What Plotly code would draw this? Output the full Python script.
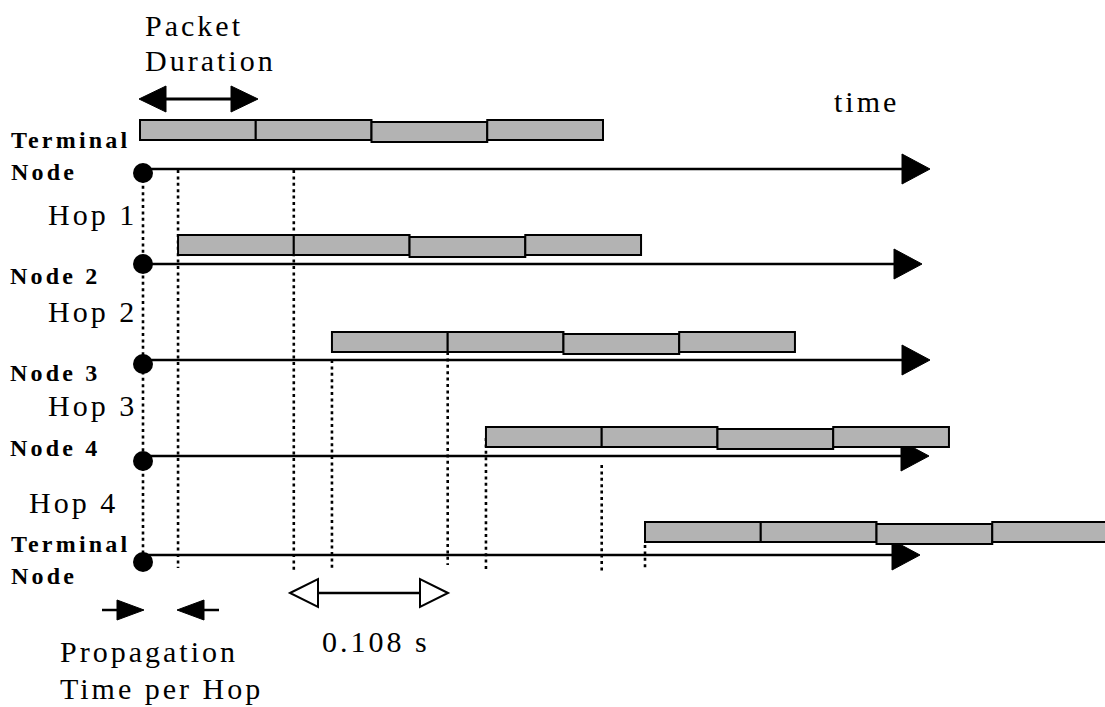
import plotly.graph_objects as go

# ---------------- data ----------------
node_labels = ["Terminal<br>Node", "Node 2", "Node 3", "Node 4", "Terminal<br>Node"]
hop_labels = ["Hop 1", "Hop 2", "Hop 3", "Hop 4"]
packet_duration = 0.108          # s, one packet
packets_per_node = 4
node_start = [0.0, 0.0355, 0.1791, 0.3228, 0.4712]   # s, first packet start at each node
packet_duration_label = ["Packet", "Duration"]
propagation_label = ["Propagation", "Time per Hop"]
duration_value_label = "0.108 s"
time_label = "time"

# ---------------- geometry / style (pixels) ----------------
W, H = 1105, 707
T0_PX = 140.0
PX_PER_S = 115.75 / packet_duration
row_line_y = [169, 264, 360, 456, 555]
row_dot_y = [173, 264, 364, 461, 562]
bar_gap = [29, 9, 8, 9, 13]
BAR_H = 20
THIRD_SHIFT = 2
DOT_DX = 3
arrow_tip_x = [930, 922, 930, 929, 920]
HEAD_L, HEAD_HALF = 28, 15
start_mark_span = [(173, 568), (170, 568), (360, 568), (438, 570), (545, 570)]
end_mark_span = [None, (170, 573), (352, 565), (465, 572), None]
label_pos = [(9, 156), (8, 276), (8, 373), (8, 448), (9, 560)]
LABEL_LINE_GAP = 32
hop_pos = [(46, 215), (46, 311), (46, 406), (27, 502)]

FILL = "#b3b3b3"
FONT = "Liberation Serif"
DOT_DASH = "3px,3.4px"


def px2t(px):
    return (px - T0_PX) / PX_PER_S


def pxx(px):
    return px / W


def pxy(py):
    return 1 - py / H


fig = go.Figure()
shapes = []
annotations = []

# time axes per node (lines + arrowheads), drawn first so bars cover them
for k in range(len(node_start)):
    y = row_line_y[k]
    x_start = DOT_DX / PX_PER_S  # axis begins at the origin dot
    shapes.append(dict(type="line", xref="x", yref="y",
                       x0=x_start, x1=px2t(arrow_tip_x[k] - HEAD_L + 2), y0=y, y1=y,
                       line=dict(color="black", width=2.5)))
    tip = arrow_tip_x[k]
    path = (f"M {pxx(tip)},{pxy(y)} L {pxx(tip - HEAD_L)},{pxy(y - HEAD_HALF)} "
            f"L {pxx(tip - HEAD_L)},{pxy(y + HEAD_HALF)} Z")
    shapes.append(dict(type="path", xref="paper", yref="paper", path=path,
                       fillcolor="black", line=dict(color="black", width=1)))

# dotted timing marks
for k in range(len(node_start)):
    x0 = node_start[k] + (DOT_DX / PX_PER_S if k == 0 else 0)
    top, bot = start_mark_span[k]
    shapes.append(dict(type="line", xref="x", yref="y", x0=x0, x1=x0, y0=top, y1=bot,
                       line=dict(color="black", width=2.6, dash=DOT_DASH)))
    if end_mark_span[k] is not None:
        xe = node_start[k] + packet_duration
        top, bot = end_mark_span[k]
        shapes.append(dict(type="line", xref="x", yref="y", x0=xe, x1=xe, y0=top, y1=bot,
                           line=dict(color="black", width=2.6, dash=DOT_DASH)))

# packets
for k in range(len(node_start)):
    for j in range(packets_per_node):
        x0 = node_start[k] + j * packet_duration
        x1 = x0 + packet_duration
        yb = row_line_y[k] - bar_gap[k] + (THIRD_SHIFT if j == 2 else 0)
        shapes.append(dict(type="rect", xref="x", yref="y", x0=x0, x1=x1,
                           y0=yb - BAR_H, y1=yb, fillcolor=FILL,
                           line=dict(color="black", width=2)))

# origin dots
fig.add_trace(go.Scatter(
    x=[DOT_DX / PX_PER_S for _ in node_start], y=row_dot_y, mode="markers",
    marker=dict(size=20, color="black"), hoverinfo="skip", showlegend=False))


def text(s, px, py, size=30, bold=False, spacing=3.0):
    t = f'<span style="letter-spacing:{spacing}px">{s}</span>'
    annotations.append(dict(text=t, x=pxx(px), y=pxy(py), xref="paper", yref="paper",
                            xanchor="left", yanchor="middle", showarrow=False, align="left",
                            font=dict(family=FONT, size=size, color="black",
                                      weight="bold" if bold else "normal")))


for lab, (lx, ly) in zip(node_labels, label_pos):
    lines = lab.split("<br>")
    n = len(lines)
    for i, ln in enumerate(lines):
        yy = ly + (i - (n - 1) / 2) * LABEL_LINE_GAP
        text(ln, lx, yy, size=24, bold=True, spacing=3.2)
for lab, (lx, ly) in zip(hop_labels, hop_pos):
    text(lab, lx, ly)

text(packet_duration_label[0], 143, 25)
text(packet_duration_label[1], 143, 61)
text(time_label, 832, 102)
text(propagation_label[0], 58, 651)
text(propagation_label[1], 58, 688)
text(duration_value_label, 320, 641)


def filled_head(tipx, y, direction, length, half):
    bx = tipx - direction * length
    return (f"M {pxx(tipx)},{pxy(y)} L {pxx(bx)},{pxy(y - half)} "
            f"L {pxx(bx)},{pxy(y + half)} Z")


# Packet duration double arrow
ay = 99
shapes.append(dict(type="line", xref="paper", yref="paper", x0=pxx(160), x1=pxx(238),
                   y0=pxy(ay), y1=pxy(ay), line=dict(color="black", width=3)))
for tipx, d in [(139, -1), (258, 1)]:
    shapes.append(dict(type="path", xref="paper", yref="paper",
                       path=filled_head(tipx, ay, d, 27, 13),
                       fillcolor="black", line=dict(color="black", width=1)))

# propagation arrows (pointing inward)
py_ = 610
shapes.append(dict(type="line", xref="paper", yref="paper", x0=pxx(102), x1=pxx(120),
                   y0=pxy(py_), y1=pxy(py_), line=dict(color="black", width=2.5)))
shapes.append(dict(type="path", xref="paper", yref="paper", path=filled_head(144, py_, 1, 27, 10),
                   fillcolor="black", line=dict(color="black", width=1)))
shapes.append(dict(type="line", xref="paper", yref="paper", x0=pxx(200), x1=pxx(219),
                   y0=pxy(py_), y1=pxy(py_), line=dict(color="black", width=2.5)))
shapes.append(dict(type="path", xref="paper", yref="paper", path=filled_head(177, py_, -1, 27, 10),
                   fillcolor="black", line=dict(color="black", width=1)))

# 0.108 s hollow double arrow
hy = 593
shapes.append(dict(type="line", xref="paper", yref="paper", x0=pxx(318), x1=pxx(420),
                   y0=pxy(hy), y1=pxy(hy), line=dict(color="black", width=2.5)))
for tipx, d in [(290, -1), (448, 1)]:
    shapes.append(dict(type="path", xref="paper", yref="paper",
                       path=filled_head(tipx, hy, d, 28, 14),
                       fillcolor="white", line=dict(color="black", width=2)))

fig.update_layout(
    width=W, height=H, margin=dict(l=0, r=0, t=0, b=0, pad=0),
    paper_bgcolor="white", plot_bgcolor="white",
    xaxis=dict(range=[px2t(0), px2t(W)], visible=False, fixedrange=True),
    yaxis=dict(range=[H, 0], visible=False, fixedrange=True),
    shapes=shapes, annotations=annotations, showlegend=False,
)

fig.write_html("out.html", config={"displayModeBar": False},
               post_script="document.body.style.margin='0';document.body.style.overflow='hidden';")
